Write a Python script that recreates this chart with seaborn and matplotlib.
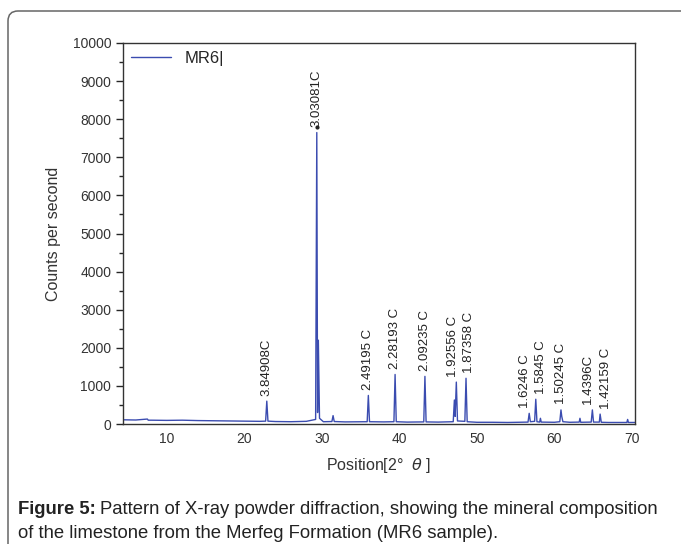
import numpy as np
import pandas as pd
import matplotlib
matplotlib.use('Agg')
import matplotlib.pyplot as plt
from matplotlib.patches import FancyBboxPatch
from matplotlib.transforms import IdentityTransform
import seaborn as sns

# ================= DATA =================
# diffractogram (2theta, counts per second)
two_theta = [4.5, 6.0, 7.5, 7.6, 8.0, 10.0, 12.0, 14.0, 16.0, 18.0, 20.0, 22.0,
             22.75, 22.9, 23.05, 24.0, 26.0, 28.0,
             29.2, 29.35, 29.45, 29.55, 29.7, 30.2,
             31.3, 31.45, 31.6, 33.0,
             35.85, 36.0, 36.15, 38.0,
             39.3, 39.45, 39.6, 41.0,
             43.15, 43.3, 43.45, 45.0,
             46.95, 47.1, 47.2, 47.35, 47.5, 48.45, 48.6, 48.75, 50.0,
             52.0, 54.0, 56.6, 56.75, 56.9, 57.45, 57.6, 57.75, 58.1, 58.2, 58.3, 60.0,
             60.7, 60.85, 60.95, 61.1, 62.0,
             63.2, 63.3, 63.4, 64.75, 64.9, 65.05, 65.8, 65.9, 66.05, 67.0,
             69.35, 69.45, 69.55, 70.5]
counts = [110, 105, 130, 100, 100, 95, 100, 90, 85, 80, 75, 70,
          75, 600, 75, 65, 60, 70,
          120, 7650, 300, 2200, 150, 60,
          65, 220, 65, 55,
          60, 750, 60, 55,
          60, 1300, 60, 50,
          55, 1250, 55, 50,
          60, 630, 200, 1100, 80, 70, 1200, 60, 45,
          45, 40, 50, 280, 60, 70, 650, 60, 50, 150, 50, 45,
          60, 370, 200, 60, 45,
          50, 150, 45, 50, 370, 50, 50, 260, 45, 40,
          40, 120, 40, 40]

# peak annotations (d-spacing labels)
peak_pos = [22.9, 29.35, 36.0, 39.45, 43.3, 47.35, 48.6, 56.75, 57.6, 60.85, 64.9, 65.9]
peak_top = [600, 7650, 750, 1300, 1250, 1100, 1200, 280, 650, 370, 370, 260]
peak_labels = ['3.84908C', '3.03081C', '2.49195 C', '2.28193 C', '2.09235 C',
               '1.92556 C', '1.87358 C', '1.6246 C', '1.5845 C', '1.50245 C',
               '1.4396C', '1.42159 C']
# small sideways nudges (points) so crowded labels don't collide
label_dx = [0, 0, 0, 0, 0, -2.5, 2.5, -3, 4, 0, -3, 4]

df = pd.DataFrame({'two_theta': two_theta, 'counts': counts})

# ================= PLOT =================
sns.set_theme(style='ticks')
plt.rcParams['font.family'] = ['Liberation Sans', 'DejaVu Sans']

fig = plt.figure(figsize=(6.81, 5.44), dpi=100)
ax = fig.add_axes([123 / 681, 1 - 424 / 544, 512 / 681, 381 / 544])

sns.lineplot(data=df, x='two_theta', y='counts', ax=ax, color='#3b4cb0',
             linewidth=1.0, sort=False, estimator=None, label='MR6|')

for xp, yp, txt, dx in zip(peak_pos, peak_top, peak_labels, label_dx):
    ax.annotate(txt, (xp, yp), xytext=(dx, 4), textcoords='offset points',
                rotation=90, ha='center', va='bottom', fontsize=9.5,
                color='#222222')
ax.plot([peak_pos[1]], [peak_top[1] + 150], marker='.', color='#222222', markersize=4)

ax.set_xlim(4.35, 70.4)
ax.set_ylim(0, 10000)
ax.set_xticks([10, 20, 30, 40, 50, 60, 70])
ax.set_yticks(range(0, 10001, 1000))
ax.set_yticks(range(500, 10000, 1000), minor=True)
ax.tick_params(axis='y', which='major', direction='out', length=5, width=1,
               labelsize=10, labelcolor='#333333')
ax.tick_params(axis='y', which='minor', direction='out', length=3, width=1)
ax.tick_params(axis='x', direction='in', length=0, labelsize=10,
               labelcolor='#333333', pad=6)
for s in ax.spines.values():
    s.set_linewidth(1.0)
    s.set_color('#333333')

ax.set_xlabel('Position[2°  $\\theta$ ]', fontsize=11.5, color='#333333', labelpad=7)
ax.set_ylabel('Counts per second', fontsize=11.5, color='#333333', labelpad=8)

ax.legend(loc='upper left', frameon=False, fontsize=12, handlelength=2.4,
          borderaxespad=0.1)

# outer frame of the figure box
frame = FancyBboxPatch((8, -40), 900, 544 - 11 + 40, boxstyle='round,pad=0,rounding_size=10',
                       transform=IdentityTransform(), facecolor='none',
                       edgecolor='#666666', linewidth=1.1)
fig.patches.append(frame)

# caption
renderer = fig.canvas.get_renderer()
cap_x = 18 / 681
t1 = fig.text(cap_x, 1 - 509 / 544, 'Figure 5:', fontsize=13.3, fontweight='bold',
              va='center', ha='left', color='#222222')
bb = t1.get_window_extent(renderer)
fig.text((bb.x1 + 4) / 681, 1 - 509 / 544,
         'Pattern of X-ray powder diffraction, showing the mineral composition',
         fontsize=13.3, va='center', ha='left', color='#222222')
fig.text(cap_x, 1 - 533 / 544,
         'of the limestone from the Merfeg Formation (MR6 sample).',
         fontsize=13.3, va='center', ha='left', color='#222222')

fig.savefig('out.png', dpi=100)
